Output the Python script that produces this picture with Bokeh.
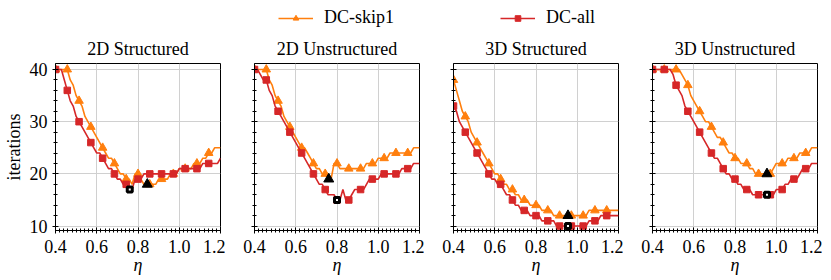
import numpy as np
from bokeh.plotting import figure
from bokeh.layouts import column, row
from bokeh.models import (ColumnDataSource, Legend, LegendItem, Range1d,
                          FixedTicker, PrintfTickFormatter)
from bokeh.embed import file_html
from bokeh.resources import INLINE

ORANGE = "#ff7f0e"
RED = "#d62728"
FONT = "Liberation Serif"
FS = "18px"

# eta sampling (57 points between 0.4 and 1.2)
eta = np.linspace(0.4, 1.2, 57)

titles = ["2D Structured", "2D Unstructured", "3D Structured", "3D Unstructured"]

skip1_2d_struct = [40,40,40,40,40,38,37,35,34,33, 31,30,29,28,27,26,25,24,23,23,
                   22,21,20,20,19,19,18,20,20,19, 18,18,18,18,18,19,19,19,19,20,
                   20,20,21,21,21,21,21,22,22,22, 23,23,24,24,25,25,25]
all_2d_struct = [40,40,40,38,36,34,33,31,30,29, 28,27,26,25,24,24,23,22,21,21,
                 20,19,19,18,18,17,17,19,19,19, 20,20,20,20,20,20,20,20,20,20,
                 20,20,21,21,21,21,21,21,21,21, 22,22,22,22,22,22,23]

skip1_2d_unstruct = [40,40,40,40,40,38,37,35,34,33, 31,30,29,28,27,26,25,25,24,23,
                     22,21,21,20,20,19,19,22,22,21, 21,21,21,21,21,21,21,21,22,22,
                     22,22,23,23,23,23,24,24,24,24, 24,24,24,24,25,25,25]
all_2d_unstruct = [40,40,39,38,38,36,35,33,32,31, 30,29,28,27,26,25,24,23,22,21,
                   20,19,18,18,17,16,16,16,15,15, 17,15,15,16,17,17,17,17,18,19,
                   19,19,19,20,20,20,20,20,20,20, 21,21,21,21,22,22,22]

skip1_3d_struct = [38,36,34,32,31,30,28,27,26,25, 24,23,22,21,20,20,19,18,18,17,
                   17,16,16,15,15,15,14,14,14,14, 13,13,13,13,12,12,12,12,12,12,
                   12,12,12,12,12,12,13,13,13,13, 13,13,13,13,13,13,13]
all_3d_struct = [33,32,30,29,28,27,26,25,24,23, 22,21,20,19,19,18,18,17,16,16,
                 15,14,14,13,13,13,12,12,12,12, 11,11,11,11,11,10,10,10,10,10,
                 10,10,10,10,10,10,11,11,11,11, 12,12,12,12,12,12,12]

skip1_3d_unstruct = [40,40,40,40,40,40,40,40,40,40, 39,38,37,35,34,33,32,31,30,30,
                     29,28,27,27,26,25,24,24,23,23, 22,22,22,21,21,20,20,20,20,20,
                     20,21,22,22,22,22,23,23,23,23, 24,24,24,24,25,25,25]
all_3d_unstruct = [40,40,40,40,40,40,40,39,37,36, 35,33,32,31,30,29,28,27,26,25,
                   24,23,23,22,21,20,20,19,19,18, 18,17,17,17,16,16,16,16,16,16,
                   16,16,17,17,17,18,18,19,19,19, 20,21,21,21,22,22,22]

skip1_series = [skip1_2d_struct, skip1_2d_unstruct, skip1_3d_struct, skip1_3d_unstruct]
all_series = [all_2d_struct, all_2d_unstruct, all_3d_struct, all_3d_unstruct]

# highlighted (black) points per panel
best_eta_skip1 = [0.845, 0.76, 0.955, 0.955]
best_iter_skip1 = [18, 19, 12, 20]
best_eta_all = [0.76, 0.80, 0.955, 0.955]
best_iter_all = [17, 15, 10, 16]

x_ticks = [0.4, 0.6, 0.8, 1.0, 1.2]
y_ticks = [10, 20, 30, 40]

marker_every = 4
n_markers = 14


def style_axes(p, show_y_labels):
    for ax in (p.xaxis[0], p.yaxis[0]):
        ax.axis_line_color = "black"
        ax.axis_line_width = 1
        ax.major_tick_line_color = "black"
        ax.minor_tick_line_color = "black"
        ax.major_tick_in = 3
        ax.major_tick_out = 3
        ax.minor_tick_in = 2
        ax.minor_tick_out = 2
        ax.major_label_text_font = FONT
        ax.major_label_text_font_size = FS
        ax.major_label_text_color = "black"
        ax.major_label_standoff = 5
        ax.axis_label_text_font = FONT
        ax.axis_label_text_font_size = FS
        ax.axis_label_text_color = "black"
    p.xaxis[0].ticker = FixedTicker(
        ticks=x_ticks, minor_ticks=[round(0.4 + 0.02 * k, 2) for k in range(41)])
    p.xaxis[0].formatter = PrintfTickFormatter(format="%.1f")
    p.xaxis[0].major_label_standoff = 6
    p.xaxis[0].axis_label = "η"
    p.xaxis[0].axis_label_text_font_style = "italic"
    p.xaxis[0].axis_label_standoff = -1
    p.yaxis[0].ticker = FixedTicker(ticks=y_ticks, minor_ticks=list(range(10, 41, 2)))
    if show_y_labels:
        p.yaxis[0].axis_label = "iterations"
        p.yaxis[0].axis_label_text_font_style = "normal"
        p.yaxis[0].axis_label_standoff = 3
    else:
        p.yaxis[0].major_label_text_color = None


panels = []
for i in range(4):
    p = figure(frame_width=165, frame_height=167,
               x_range=Range1d(0.4, 1.2), y_range=Range1d(9.15, 41.15),
               output_backend="svg", toolbar_location=None,
               min_border_left=53 if i == 0 else 29, min_border_right=5,
               min_border_top=31, min_border_bottom=40)
    p.title.text = titles[i]
    p.title.align = "center"
    p.title.text_font = FONT
    p.title.text_font_size = FS
    p.title.text_font_style = "normal"
    p.title.text_color = "black"
    p.title.standoff = 10
    p.outline_line_color = "black"
    p.outline_line_width = 1
    p.outline_line_alpha = 1
    p.background_fill_color = "white"
    p.border_fill_color = "white"
    p.grid.grid_line_color = "#d0d0d0"
    p.grid.grid_line_width = 1
    p.xgrid.ticker = FixedTicker(ticks=x_ticks)
    p.ygrid.ticker = FixedTicker(ticks=y_ticks)
    style_axes(p, i == 0)

    src_s = ColumnDataSource(dict(x=eta, y=skip1_series[i]))
    src_a = ColumnDataSource(dict(x=eta, y=all_series[i]))
    mk_s = ColumnDataSource(dict(x=eta[::marker_every][:n_markers],
                                 y=skip1_series[i][::marker_every][:n_markers]))
    mk_a = ColumnDataSource(dict(x=eta[::marker_every][:n_markers],
                                 y=all_series[i][::marker_every][:n_markers]))
    p.line("x", "y", source=src_s, line_color=ORANGE, line_width=1.6)
    p.scatter("x", "y", source=mk_s, marker="triangle", size=8.5,
              fill_color=ORANGE, line_color=ORANGE)
    p.line("x", "y", source=src_a, line_color=RED, line_width=1.6)
    p.scatter("x", "y", source=mk_a, marker="square", size=6.5,
              fill_color=RED, line_color=RED)
    p.scatter(x=[best_eta_skip1[i]], y=[best_iter_skip1[i]], marker="triangle",
              size=10, fill_color="black", line_color="black")
    p.scatter(x=[best_eta_all[i]], y=[best_iter_all[i]], marker="square",
              size=5, fill_color="white", line_color="black", line_width=3)
    panels.append(p)

# legend strip (its renderers use the first data point, which lies outside
# the strip's ranges, so only the legend entries are visible)
lg = figure(width=820, height=31, output_backend="svg", toolbar_location=None,
            x_range=Range1d(0, 1), y_range=Range1d(0, 1),
            x_axis_type=None, y_axis_type=None, min_border=0)
lg.outline_line_color = None
lg.grid.visible = False
leg_s = ColumnDataSource(dict(x=eta[:1], y=skip1_2d_struct[:1]))
leg_a = ColumnDataSource(dict(x=eta[:1], y=all_2d_struct[:1]))
l1 = lg.line("x", "y", source=leg_s, line_color=ORANGE, line_width=1.6)
s1 = lg.scatter("x", "y", source=leg_s, marker="triangle", size=8,
                fill_color=ORANGE, line_color=ORANGE)
l2 = lg.line("x", "y", source=leg_a, line_color=RED, line_width=1.6)
s2 = lg.scatter("x", "y", source=leg_a, marker="square", size=6,
                fill_color=RED, line_color=RED)
legend = Legend(items=[LegendItem(label="DC-skip1", renderers=[l1, s1]),
                       LegendItem(label="DC-all", renderers=[l2, s2])],
                orientation="horizontal", location=(278, 3),
                glyph_width=35, glyph_height=14, label_standoff=11,
                spacing=106, padding=0, margin=0,
                border_line_color=None, background_fill_alpha=0,
                label_text_font=FONT, label_text_font_size=FS,
                label_text_color="black")
lg.add_layout(legend)

layout = column(lg, row(*panels, spacing=0), spacing=0)
open("out.html", "w").write(file_html(layout, INLINE))
